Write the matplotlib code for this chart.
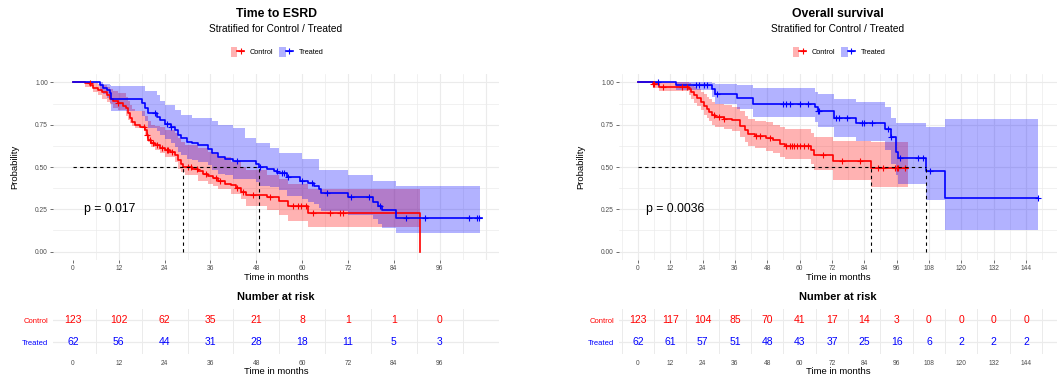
import numpy as np
import matplotlib
matplotlib.use("Agg")
import matplotlib.pyplot as plt
from matplotlib.patches import Patch
from matplotlib.lines import Line2D
from matplotlib.legend_handler import HandlerTuple

plt.rcParams['font.family'] = ['Liberation Sans', 'DejaVu Sans']

# ── data: Time to ESRD (left) ────────────────────────────────────────────────
esrd_ctrl_t = [0, 3.1, 4.5, 5.3, 6.6, 7.5, 8.8, 9.7, 10.5, 11.9, 13.2, 14.0, 14.5, 14.9,
               15.4, 16.2, 17.5, 18.8, 19.3, 19.7, 20.4, 21.5, 22.8, 24.1, 25.4, 26.7,
               27.6, 28.4, 28.7, 31.1, 32.8, 34.1, 35.4, 36.7, 38.0, 39.8, 41.5, 42.8,
               44.1, 45.4, 50.7, 54.0, 56.3, 61.6, 90.8]
esrd_ctrl_s = [1.0, 0.994, 0.984, 0.968, 0.954, 0.941, 0.925, 0.905, 0.889, 0.876, 0.862,
               0.846, 0.817, 0.787, 0.767, 0.751, 0.737, 0.718, 0.688, 0.659, 0.639, 0.629,
               0.613, 0.600, 0.586, 0.570, 0.540, 0.520, 0.500, 0.491, 0.475, 0.461, 0.447,
               0.432, 0.416, 0.402, 0.392, 0.376, 0.353, 0.333, 0.320, 0.300, 0.270, 0.228,
               0.0]
esrd_ctrl_band_t = [0, 3.1, 5.3, 6.6, 7.5, 8.8, 9.7, 10.5, 11.9, 14.0, 14.5, 14.9, 15.4, 16.2,
                    18.8, 19.7, 20.4, 21.5, 22.8, 24.1, 26.7, 27.6, 28.4, 29.3, 32.8, 35.4,
                    36.7, 38.0, 41.5, 44.1, 45.4, 50.7, 54.0, 56.3, 61.6, 90.8]
esrd_ctrl_lo = [1.0, 0.975, 0.945, 0.925, 0.905, 0.885, 0.87, 0.85, 0.835, 0.80, 0.78, 0.76,
                0.745, 0.73, 0.69, 0.65, 0.62, 0.60, 0.58, 0.56, 0.53, 0.49, 0.47, 0.45,
                0.42, 0.40, 0.39, 0.37, 0.34, 0.31, 0.27, 0.245, 0.215, 0.18, 0.145, 0.145]
esrd_ctrl_hi = [1.0, 1.0, 1.0, 0.99, 0.985, 0.975, 0.96, 0.95, 0.935, 0.915, 0.89, 0.865,
                0.845, 0.83, 0.80, 0.77, 0.75, 0.745, 0.735, 0.72, 0.70, 0.67, 0.65, 0.63,
                0.61, 0.59, 0.575, 0.56, 0.53, 0.50, 0.48, 0.45, 0.43, 0.40, 0.37, 0.37]
esrd_ctrl_cens = [4.4, 11.9, 18.6, 19.5, 20.2, 21.0, 22.0, 23.2, 24.5, 25.0, 26.0, 30.2, 31.0,
                  32.5, 34.8, 37.5, 38.5, 43.0, 44.6, 47.2, 51.5, 57.6, 59.0, 59.8, 61.1,
                  62.8, 67.2, 69.8, 70.7]

esrd_trt_t = [0, 7.1, 7.9, 8.8, 9.7, 10.1, 18.0, 18.8, 19.7, 21.9, 22.8, 24.1, 25.8, 26.7,
              27.6, 28.4, 29.8, 31.1, 32.8, 35.4, 36.3, 38.0, 39.8, 42.0, 48.0, 48.6, 50.7,
              52.5, 53.5, 56.0, 59.5, 61.5, 63.0, 64.5, 65.0, 72.0, 78.5, 79.8, 80.8, 84.5,
              107.0]
esrd_trt_s = [1.0, 0.984, 0.968, 0.954, 0.935, 0.905, 0.876, 0.846, 0.817, 0.797, 0.777,
              0.757, 0.737, 0.718, 0.688, 0.669, 0.649, 0.639, 0.629, 0.609, 0.580, 0.560,
              0.550, 0.534, 0.520, 0.500, 0.490, 0.477, 0.465, 0.440, 0.420, 0.406, 0.390,
              0.370, 0.347, 0.320, 0.294, 0.268, 0.245, 0.200, 0.200]
esrd_trt_band_t = [0, 7.1, 7.9, 8.8, 9.7, 10.1, 18.0, 18.8, 19.7, 21.9, 22.8, 24.1, 25.8,
                   26.7, 27.6, 28.4, 29.8, 31.1, 32.8, 35.4, 36.3, 38.0, 39.8, 42.0, 45.0,
                   48.0, 48.6, 51.5, 54.0, 56.0, 60.0, 61.5, 63.0, 64.5, 65.0, 72.0, 78.5,
                   79.8, 80.8, 84.5, 106.5]
esrd_trt_lo = [1.0, 0.95, 0.93, 0.91, 0.88, 0.83, 0.80, 0.77, 0.73, 0.71, 0.69, 0.665, 0.64,
               0.62, 0.59, 0.57, 0.55, 0.54, 0.53, 0.51, 0.48, 0.46, 0.45, 0.43, 0.43, 0.41,
               0.39, 0.38, 0.365, 0.33, 0.31, 0.295, 0.28, 0.26, 0.24, 0.215, 0.195, 0.165,
               0.14, 0.107, 0.107]
esrd_trt_hi = [1.0, 1.0, 0.99, 0.99, 0.985, 0.98, 0.98, 0.95, 0.95, 0.925, 0.89, 0.865,
               0.865, 0.835, 0.835, 0.81, 0.81, 0.79, 0.79, 0.79, 0.77, 0.75, 0.75, 0.73,
               0.67, 0.64, 0.64, 0.61, 0.58, 0.58, 0.55, 0.55, 0.55, 0.48, 0.48, 0.45, 0.42,
               0.42, 0.42, 0.39, 0.39]
esrd_trt_cens = [21.5, 24.5, 25.8, 43.0, 49.0, 53.3, 54.6, 55.3, 56.4, 59.9, 62.5, 66.4,
                 72.9, 77.5, 80.4, 87.2, 92.1, 103.7, 105.7, 106.3]

esrd_ticks = [0, 12, 24, 36, 48, 60, 72, 84, 96]
esrd_risk_ctrl = [123, 102, 62, 35, 21, 8, 1, 1, 0]
esrd_risk_trt = [62, 56, 44, 31, 28, 18, 11, 5, 3]

# ── data: Overall survival (right) ───────────────────────────────────────────
os_ctrl_t = [0, 5.5, 8.0, 19.0, 19.6, 20.8, 22.0, 23.3, 24.5, 25.7, 26.3, 27.5, 28.8, 31.8,
             35.0, 37.9, 39.8, 41.0, 43.5, 47.7, 50.2, 52.6, 54.5, 64.3, 65.5, 72.5, 86.5,
             100.3]
os_ctrl_s = [1.0, 0.99, 0.975, 0.96, 0.945, 0.925, 0.906, 0.886, 0.863, 0.843, 0.824, 0.808,
             0.794, 0.786, 0.775, 0.745, 0.716, 0.696, 0.682, 0.670, 0.657, 0.637, 0.627,
             0.598, 0.570, 0.533, 0.494, 0.494]
os_ctrl_lo = [1.0, 0.97, 0.95, 0.925, 0.905, 0.88, 0.86, 0.835, 0.81, 0.79, 0.77, 0.75,
              0.735, 0.725, 0.71, 0.675, 0.645, 0.625, 0.61, 0.595, 0.58, 0.56, 0.548, 0.515,
              0.48, 0.425, 0.38, 0.38]
os_ctrl_hi = [1.0, 1.0, 1.0, 0.995, 0.985, 0.975, 0.96, 0.945, 0.93, 0.915, 0.90, 0.885,
              0.87, 0.865, 0.855, 0.83, 0.80, 0.785, 0.775, 0.765, 0.75, 0.735, 0.725, 0.70,
              0.675, 0.655, 0.645, 0.645]
os_ctrl_cens = [5.5, 6.1, 9.2, 16.5, 18.4, 28.4, 30.0, 31.8, 44.0, 45.3, 49.0, 55.0, 56.5,
                57.2, 58.0, 59.0, 60.0, 61.5, 63.0, 68.6, 75.9, 82.3, 89.2, 91.1, 95.3,
                96.0, 96.5, 99.0]

os_trt_t = [0, 14.3, 27.5, 28.8, 36.7, 42.8, 65.6, 66.7, 72.8, 80.9, 91.7, 93.8, 95.8, 96.6,
            106.9, 114.0, 148.3]
os_trt_s = [1.0, 0.984, 0.962, 0.93, 0.91, 0.875, 0.855, 0.83, 0.787, 0.76, 0.727, 0.678,
            0.59, 0.553, 0.475, 0.316, 0.316]
os_trt_lo = [1.0, 0.955, 0.915, 0.87, 0.845, 0.795, 0.765, 0.735, 0.68, 0.655, 0.60, 0.52,
             0.45, 0.40, 0.304, 0.128, 0.128]
os_trt_hi = [1.0, 1.0, 0.995, 0.99, 0.985, 0.965, 0.945, 0.93, 0.90, 0.885, 0.852, 0.79,
             0.758, 0.758, 0.735, 0.784, 0.784]
os_trt_cens = [7.3, 21.4, 22.6, 24.5, 25.7, 29.4, 53.9, 55.0, 56.3, 60.0, 63.0, 66.7, 67.3,
               73.5, 74.7, 77.5, 83.3, 83.9, 86.9, 92.8, 93.8, 97.4, 103.8, 105.7, 108.2,
               148.3]

os_ticks = [0, 12, 24, 36, 48, 60, 72, 84, 96, 108, 120, 132, 144]
os_risk_ctrl = [123, 117, 104, 85, 70, 41, 17, 14, 3, 0, 0, 0, 0]
os_risk_trt = [62, 61, 57, 51, 48, 43, 37, 25, 16, 6, 2, 2, 2]

RED, BLUE = '#FF0000', '#0000FF'
GRID = '#EBEBEB'
TXT = '#4D4D4D'
W, H = 1064, 380


def box(x0, y0, x1, y1):
    # pixel box (top-left origin) -> figure fraction
    return [x0 / W, 1 - y1 / H, (x1 - x0) / W, (y1 - y0) / H]


def km_panel(ax, groups, xlim, ticks, grid_x, pval):
    ax.set_xlim(*xlim)
    ax.set_ylim(-0.05, 1.05)
    for g in grid_x:
        lw = 0.8 if g % 12 == 0 else 0.5
        ax.axvline(g, color=GRID, lw=lw, zorder=0)
    for yv in [0, 0.25, 0.5, 0.75, 1.0]:
        ax.axhline(yv, color=GRID, lw=0.8, zorder=0)
    for yv in [0.125, 0.375, 0.625, 0.875]:
        ax.axhline(yv, color=GRID, lw=0.5, zorder=0)

    meds = []
    for t, s, bt, lo, hi, cens, col in groups:
        ax.fill_between(bt, lo, hi, step='post', color=col, alpha=0.3, lw=0, zorder=1)
    for t, s, bt, lo, hi, cens, col in groups:
        t, s = np.array(t), np.array(s)
        ax.step(t, s, where='post', color=col, lw=1.2, zorder=3)
        cs = s[np.searchsorted(t, cens, side='right') - 1]
        ax.plot(cens, cs, '+', color=col, ms=4.5, mew=0.8, zorder=4)
        meds.append(t[np.argmax(s <= 0.5)])
    ax.plot([0, max(meds)], [0.5, 0.5], color='black', lw=0.8, ls=(0, (3, 3)), zorder=5)
    for m in meds:
        ax.plot([m, m], [0, 0.5], color='black', lw=0.8, ls=(0, (3, 3)), zorder=5)

    ax.text(3, 0.25, pval, fontsize=8.8, va='center', ha='left')
    ax.set_xticks(ticks)
    ax.set_xticklabels([str(v) for v in ticks])
    ax.set_yticks([0, 0.25, 0.5, 0.75, 1.0])
    ax.set_yticklabels(['0.00', '0.25', '0.50', '0.75', '1.00'])
    ax.tick_params(labelsize=4.8, labelcolor=TXT, color='#333333', length=2.2,
                   width=0.5, pad=1.5)
    for sp in ax.spines.values():
        sp.set_visible(False)


def risk_table(ax, xlim, ticks, ctrl, trt):
    ax.set_xlim(*xlim)
    ax.set_ylim(0.455, 2.5)
    g = -6
    while g < xlim[1]:
        if g > xlim[0]:
            ax.axvline(g, color=GRID, lw=0.7, zorder=0)
        g += 12
    ax.axhline(1, color=GRID, lw=0.9, zorder=0)
    ax.axhline(2, color=GRID, lw=0.9, zorder=0)
    for i, tv in enumerate(ticks):
        ax.text(tv, 2, str(ctrl[i]), color=RED, ha='center', va='center', fontsize=7.5)
        ax.text(tv, 1, str(trt[i]), color=BLUE, ha='center', va='center', fontsize=7.5)
    ax.set_xticks(ticks)
    ax.set_xticklabels([str(v) for v in ticks])
    ax.set_yticks([1, 2])
    ax.set_yticklabels(['Treated', 'Control'])
    ax.get_yticklabels()[0].set_color(BLUE)
    ax.get_yticklabels()[1].set_color(RED)
    ax.tick_params(axis='x', labelsize=4.8, labelcolor=TXT, length=0, pad=4)
    ax.tick_params(axis='y', labelsize=5.5, length=0, pad=3.5)
    for sp in ax.spines.values():
        sp.set_visible(False)


fig = plt.figure(figsize=(W / 100, H / 100), dpi=100)

panels = [
    dict(px=(53, 499), xlim=(-5.2, 111.5), ticks=esrd_ticks,
         grid_x=[6, 12, 18, 24, 30, 36, 42, 48, 54, 60, 66, 72, 78, 84, 90, 96, 102, 108],
         groups=[(esrd_ctrl_t, esrd_ctrl_s, esrd_ctrl_band_t, esrd_ctrl_lo, esrd_ctrl_hi,
                  esrd_ctrl_cens, RED),
                 (esrd_trt_t, esrd_trt_s, esrd_trt_band_t, esrd_trt_lo, esrd_trt_hi,
                  esrd_trt_cens, BLUE)],
         pval='p = 0.017', title='Time to ESRD',
         risk=(esrd_risk_ctrl, esrd_risk_trt)),
    dict(px=(619, 1057), xlim=(-7.0, 155.5), ticks=os_ticks,
         grid_x=list(range(-6, 156, 6)),
         groups=[(os_ctrl_t, os_ctrl_s, os_ctrl_t, os_ctrl_lo, os_ctrl_hi, os_ctrl_cens, RED),
                 (os_trt_t, os_trt_s, os_trt_t, os_trt_lo, os_trt_hi, os_trt_cens, BLUE)],
         pval='p = 0.0036', title='Overall survival',
         risk=(os_risk_ctrl, os_risk_trt)),
]

for p in panels:
    x0, x1 = p['px']
    cx = (x0 + x1) / 2
    ax = fig.add_axes(box(x0, 74, x1, 260))
    km_panel(ax, p['groups'], p['xlim'], p['ticks'], p['grid_x'], p['pval'])

    fig.text(cx / W, 1 - 14 / H, p['title'], ha='center', va='center',
             fontsize=8.8, fontweight='bold')
    fig.text(cx / W, 1 - 29 / H, 'Stratified for Control / Treated', ha='center',
             va='center', fontsize=7.3)
    fig.text((x0 - 38) / W, 1 - 167 / H, 'Probability', rotation=90, ha='center',
             va='center', fontsize=6.8)
    fig.text(cx / W, 1 - 277 / H, 'Time in months', ha='center', va='center', fontsize=6.8)

    handles = [(Patch(fc=RED, alpha=0.3, lw=0), Line2D([], [], color=RED, lw=1.2, marker='+',
                                                      ms=5, mew=0.8)),
               (Patch(fc=BLUE, alpha=0.3, lw=0), Line2D([], [], color=BLUE, lw=1.2, marker='+',
                                                        ms=5, mew=0.8))]
    fig.legend(handles, ['Control', 'Treated'], loc='center',
               bbox_to_anchor=((cx + 1) / W, 1 - 52 / H), ncol=2, frameon=False,
               fontsize=5.3, handlelength=1.8, handleheight=1.8, handletextpad=0.8,
               columnspacing=0.8, borderpad=0,
               handler_map={tuple: HandlerTuple(ndivide=None)})

    tax = fig.add_axes(box(x0, 309, x1, 354))
    risk_table(tax, p['xlim'], p['ticks'], *p['risk'])
    fig.text(cx / W, 1 - 297 / H, 'Number at risk', ha='center', va='center',
             fontsize=7.9, fontweight='bold')
    fig.text(cx / W, 1 - 371 / H, 'Time in months', ha='center', va='center', fontsize=6.8)

fig.savefig('out.png', dpi=100)
